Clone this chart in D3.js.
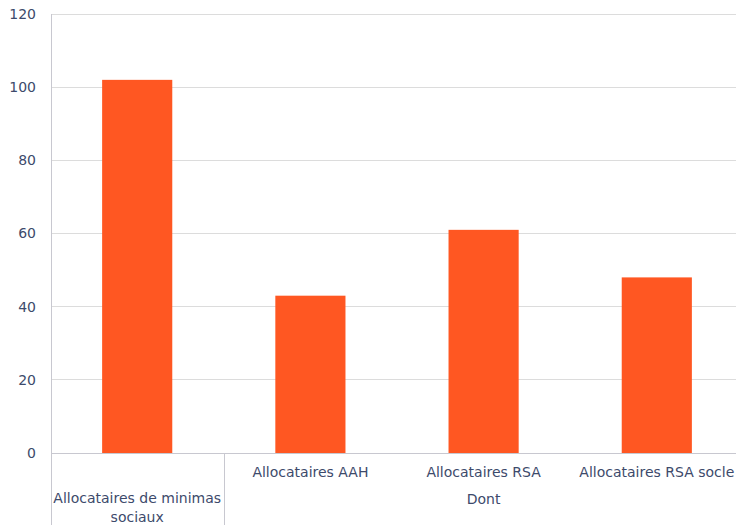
<!DOCTYPE html>
<html><head><meta charset="utf-8">
<script src="https://cdn.jsdelivr.net/npm/d3@7"></script>
<style>
html,body{margin:0;padding:0;background:#fff;overflow:hidden;}
text{font-family:"DejaVu Sans",Verdana,sans-serif;fill:#3d4a6b;}
</style></head>
<body><svg id="c" width="736" height="525"></svg>
<script>
const categories = ["Allocataires de minimas sociaux","Allocataires AAH","Allocataires RSA","Allocataires RSA socle"];
const labelLines = [["Allocataires de minimas","sociaux"],["Allocataires AAH"],["Allocataires RSA"],["Allocataires RSA socle"]];
const values = [102, 43, 61, 48];
const yTicks = [0,20,40,60,80,100,120];
const groupLabel = "Dont";

const svg = d3.select("#c");
const m = {l:51, t:14, b:72};
const W = 736, H = 525;
const x = d3.scaleBand().domain(categories).range([50.6, 743.4]).padding(0);
const y = d3.scaleLinear().domain([0,120]).range([H-m.b, m.t]);

// gridlines
svg.append("g").selectAll("line").data(yTicks.filter(d=>d>0)).join("line")
  .attr("x1", m.l).attr("x2", W).attr("y1", d=>y(d)).attr("y2", d=>y(d))
  .attr("stroke", "#dcdcdc").attr("stroke-width", 1).attr("shape-rendering","crispEdges");

// y tick labels
svg.append("g").selectAll("text").data(yTicks).join("text")
  .attr("x", 36).attr("y", d=>y(d)).attr("dy","0.35em")
  .attr("text-anchor","end").style("font-size","14px").text(d=>d);

// bars
const bw = x.bandwidth()*0.405;
svg.append("g").selectAll("rect").data(values).join("rect")
  .attr("x", (d,i)=>x(categories[i]) + x.bandwidth()/2 - bw/2)
  .attr("width", bw)
  .attr("y", d=>y(d)).attr("height", d=>y(0)-y(d))
  .attr("fill", "#ff5722");

// left axis line
svg.append("line").attr("x1", m.l+0.5).attr("x2", m.l+0.5).attr("y1", m.t).attr("y2", H)
  .attr("stroke", "#c8c8d0").attr("stroke-width",1);
// baseline
svg.append("line").attr("x1", m.l).attr("x2", W).attr("y1", y(0)+0.5).attr("y2", y(0)+0.5)
  .attr("stroke", "#c8c8d0").attr("stroke-width",1);
// group separator
const sepX = Math.round(x(categories[1])) + 0.5;
svg.append("line").attr("x1", sepX).attr("x2", sepX).attr("y1", y(0)).attr("y2", H)
  .attr("stroke", "#c8c8d0").attr("stroke-width",1);

// category labels
labelLines.forEach((lines,i)=>{
  const cx = x(categories[i]) + x.bandwidth()/2;
  const startY = i===0 ? 498.5 : 472.5;
  lines.forEach((ln,j)=>{
    svg.append("text").attr("x", cx).attr("y", startY + j*18.5).attr("dy","0.35em")
      .attr("text-anchor","middle").style("font-size","14px").text(ln);
  });
});
// group label
svg.append("text").attr("x", x(categories[2]) + x.bandwidth()/2).attr("y", 499).attr("dy","0.35em")
  .attr("text-anchor","middle").style("font-size","14px").text(groupLabel);
</script></body></html>
